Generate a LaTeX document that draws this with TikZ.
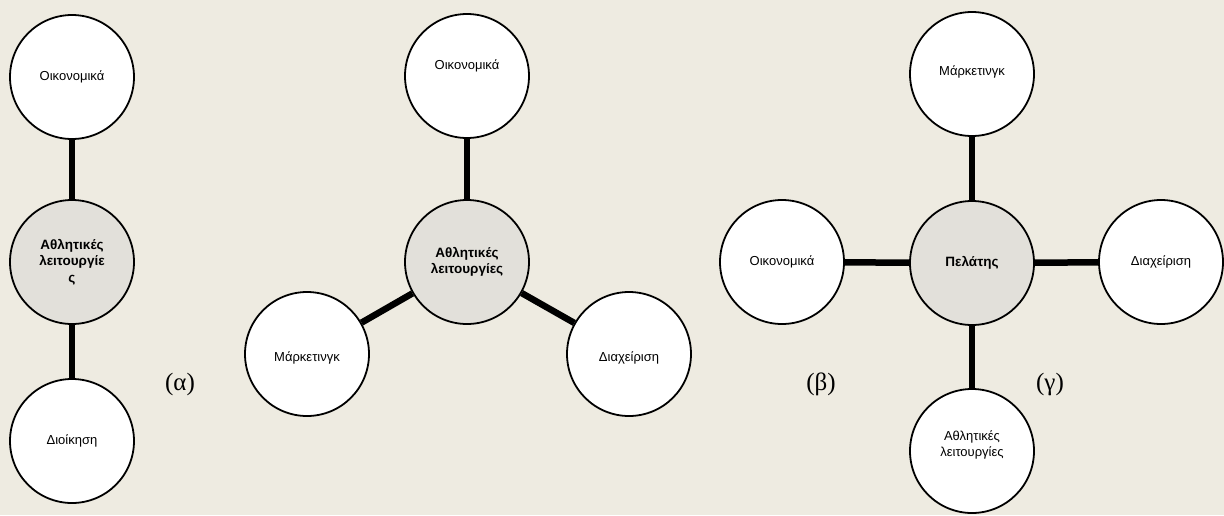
\documentclass[tikz,border=0pt]{standalone}
\usepackage{fontspec}
\setmainfont{Liberation Sans}
\newfontfamily\serifgr{Liberation Serif}
\definecolor{paper}{HTML}{EEEBE1}
\definecolor{hub}{HTML}{E2E0DA}
\begin{document}
\begin{tikzpicture}[x=1pt,y=-1pt,
  txt/.style={font=\fontsize{13}{16}\selectfont,align=center},
  bubble/.style={circle,draw=black,line width=1.8pt,fill=white,minimum size=124pt,inner sep=0pt,txt},
  hubble/.style={bubble,fill=hub,font=\fontsize{13.5}{16.5}\selectfont\bfseries},
  link/.style={line width=6.5pt,black},
  tag/.style={font=\serifgr\fontsize{25}{27}\selectfont}]
\fill[paper] (0,0) rectangle (1224,515);
\useasboundingbox (0,0) rectangle (1224,515);

% (alpha): vertical chain
\node[bubble]  (a1) at (72,77)  {Οικονομικά};
\node[hubble]  (a2) at (72,262) {Αθλητικές\\λειτουργίε\\ς};
\node[bubble]  (a3) at (72,441) {Διοίκηση};
\draw[link] (a1) -- (a2);
\draw[link] (a2) -- (a3);
\node[tag] (la) at (180,384) {(α)};

% (beta): three branches
\node[hubble] (b0) at (467,262) {Αθλητικές\\λειτουργίες};
\node[bubble,label={[txt,yshift=10pt]center:Οικονομικά}] (b1) at (467,76) {};
\node[bubble,label={[txt,yshift=-4pt]center:Μάρκετινγκ}] (b2) at (307,354) {};
\node[bubble,label={[txt,yshift=-4pt]center:Διαχείριση}] (b3) at (629,354) {};
\draw[link] (b0) -- (b1);
\draw[link] (b0) -- (b2);
\draw[link] (b0) -- (b3);
\node[tag] (lb) at (821,384) {(β)};

% (gamma): four branches around the customer
\node[hubble] (c0) at (972,263) {Πελάτης};
\node[bubble,label={[txt,yshift=2pt]center:Μάρκετινγκ}] (c1) at (972,74) {};
\node[bubble] (c2) at (782,262) {Οικονομικά};
\node[bubble] (c3) at (1161,262) {Διαχείριση};
\node[bubble,label={[txt,yshift=6pt]center:Αθλητικές\\λειτουργίες}] (c4) at (972,451) {};
\draw[link] (c0) -- (c1);
\draw[link] (c0) -- (c2);
\draw[link] (c0) -- (c3);
\draw[link] (c0) -- (c4);
\node[tag] (lc) at (1050,384) {(γ)};
\end{tikzpicture}
\end{document}
